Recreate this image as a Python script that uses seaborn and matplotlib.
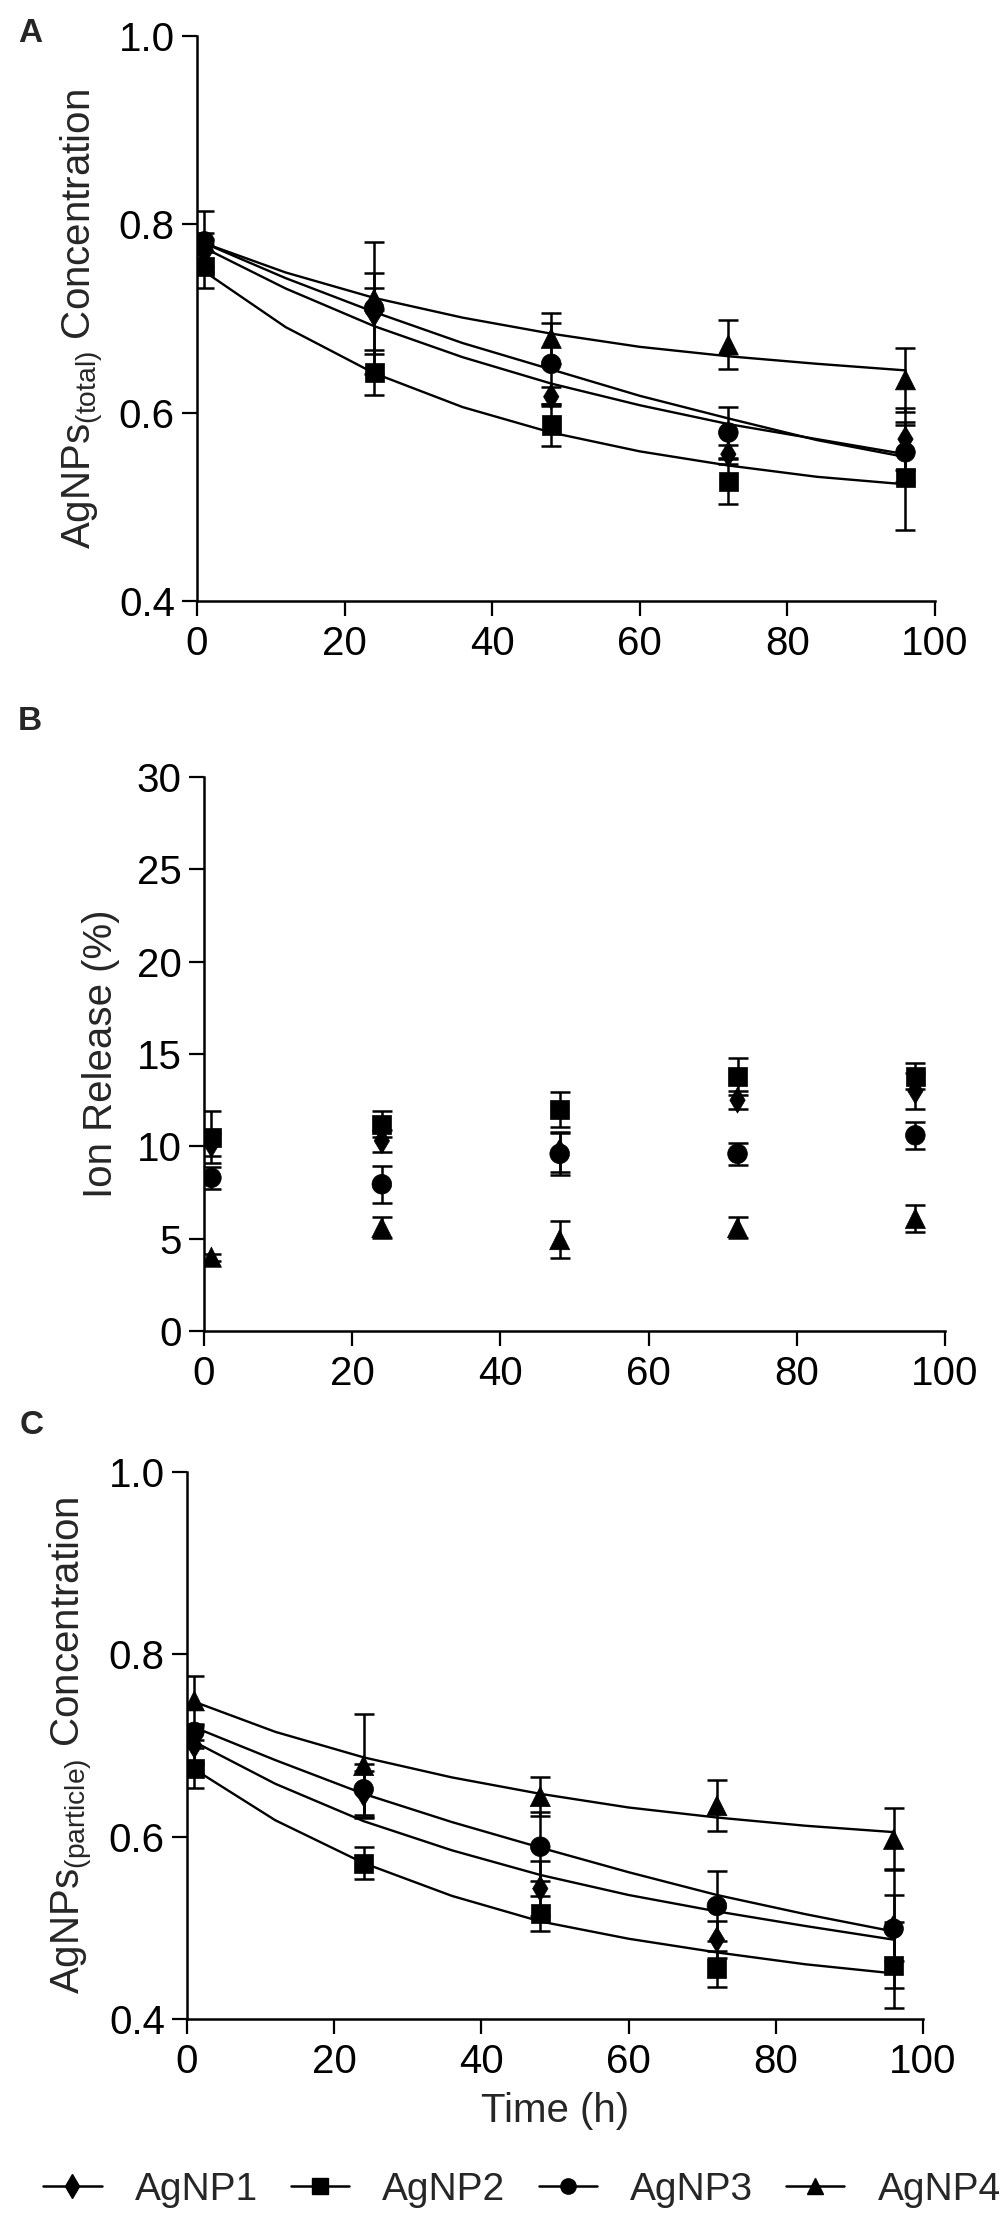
import numpy as np
import pandas as pd
import matplotlib.pyplot as plt
from matplotlib.lines import Line2D
import seaborn as sns

# time points (h) and the points where the fitted decay curves were read
time_h = [1, 24, 48, 72, 96]
fit_time = [1, 12, 24, 36, 48, 60, 72, 84, 96]
samples = ['AgNP1', 'AgNP2', 'AgNP3', 'AgNP4']

# A: AgNPs(total) concentration, mean and SD
total_agnp1 = [0.770, 0.705, 0.617, 0.556, 0.572]
total_agnp2 = [0.755, 0.643, 0.587, 0.527, 0.531]
total_agnp3 = [0.782, 0.711, 0.652, 0.579, 0.558]
total_agnp4 = [0.781, 0.721, 0.679, 0.672, 0.635]
total_sd1 = [0.015, 0.043, 0.010, 0.010, 0.033]
total_sd2 = [0.023, 0.024, 0.022, 0.024, 0.056]
total_sd3 = [0.032, 0.070, 0.043, 0.027, 0.032]
total_sd4 = [0.010, 0.012, 0.027, 0.026, 0.034]
total_fit1 = [0.775, 0.732, 0.692, 0.659, 0.631, 0.608, 0.588, 0.572, 0.556]
total_fit2 = [0.750, 0.691, 0.642, 0.606, 0.579, 0.559, 0.544, 0.532, 0.524]
total_fit3 = [0.780, 0.743, 0.707, 0.674, 0.646, 0.618, 0.594, 0.571, 0.553]
total_fit4 = [0.780, 0.749, 0.722, 0.701, 0.684, 0.670, 0.660, 0.652, 0.645]

# B: ion release (%), mean and SD
ion_agnp1 = [10.1, 10.3, 9.7, 12.5, 13.0]
ion_agnp2 = [10.5, 11.2, 12.0, 13.8, 13.8]
ion_agnp3 = [8.3, 7.95, 9.6, 9.6, 10.6]
ion_agnp4 = [4.0, 5.6, 4.95, 5.6, 6.1]
ion_sd1 = [0.6, 0.6, 1.1, 0.5, 1.0]
ion_sd2 = [1.4, 0.7, 0.95, 1.0, 0.7]
ion_sd3 = [0.6, 1.0, 1.15, 0.6, 0.72]
ion_sd4 = [0.2, 0.55, 1.0, 0.55, 0.75]

# C: AgNPs(particle) concentration, mean and SD
part_agnp1 = [0.700, 0.647, 0.543, 0.487, 0.500]
part_agnp2 = [0.675, 0.571, 0.516, 0.455, 0.459]
part_agnp3 = [0.715, 0.652, 0.589, 0.524, 0.499]
part_agnp4 = [0.749, 0.678, 0.644, 0.634, 0.597]
part_sd1 = [0.020, 0.025, 0.030, 0.020, 0.036]
part_sd2 = [0.022, 0.018, 0.019, 0.020, 0.047]
part_sd3 = [0.009, 0.028, 0.038, 0.038, 0.065]
part_sd4 = [0.027, 0.057, 0.021, 0.028, 0.034]
part_fit1 = [0.704, 0.658, 0.617, 0.585, 0.558, 0.536, 0.518, 0.502, 0.487]
part_fit2 = [0.674, 0.618, 0.571, 0.535, 0.507, 0.488, 0.473, 0.460, 0.450]
part_fit3 = [0.720, 0.684, 0.647, 0.616, 0.588, 0.561, 0.536, 0.515, 0.496]
part_fit4 = [0.748, 0.715, 0.687, 0.665, 0.647, 0.632, 0.621, 0.612, 0.605]

marker_map = {'AgNP1': 'd', 'AgNP2': 's', 'AgNP3': 'o', 'AgNP4': '^'}
size_map = {'AgNP1': 170, 'AgNP2': 190, 'AgNP3': 200, 'AgNP4': 210}


def long_table(values, sds):
    rows = []
    for name, vals, errs in zip(samples, values, sds):
        for t, v, e in zip(time_h, vals, errs):
            rows.append({'time': t, 'value': v, 'sd': e, 'sample': name})
    return pd.DataFrame(rows)


def fit_table(curves):
    rows = []
    for name, vals in zip(samples, curves):
        for t, v in zip(fit_time, vals):
            rows.append({'time': t, 'value': v, 'sample': name})
    return pd.DataFrame(rows)


sns.set_theme(style='ticks')
plt.rcParams['font.family'] = ['Liberation Sans', 'DejaVu Sans']
plt.rcParams['mathtext.fontset'] = 'custom'
plt.rcParams['mathtext.rm'] = 'Liberation Sans'
plt.rcParams['mathtext.default'] = 'regular'

FS = 29

fig = plt.figure(figsize=(10, 22.14), dpi=100)
axA = fig.add_axes([0.197, 0.7285, 0.738, 0.2552])
axB = fig.add_axes([0.204, 0.3988, 0.741, 0.2502])
axC = fig.add_axes([0.187, 0.0881, 0.736, 0.2470])


def draw_panel(ax, df, fit_df=None):
    if fit_df is not None:
        sns.lineplot(data=fit_df, x='time', y='value', units='sample',
                     estimator=None, color='black', linewidth=1.7, ax=ax,
                     legend=False)
    for name in samples:
        sub = df[df['sample'] == name]
        ax.errorbar(sub['time'], sub['value'], yerr=sub['sd'], fmt='none',
                    ecolor='black', elinewidth=1.8, capsize=7, capthick=1.8,
                    zorder=3)
    sns.scatterplot(data=df, x='time', y='value', style='sample',
                    markers=marker_map, size='sample', sizes=size_map,
                    color='black', edgecolor='black', linewidth=0.5,
                    ax=ax, legend=False, zorder=4)
    sns.despine(ax=ax)
    for s in ['left', 'bottom']:
        ax.spines[s].set_linewidth(1.8)
        ax.spines[s].set_color('black')
    ax.tick_params(direction='out', length=11, width=1.6, colors='black',
                   labelsize=FS, pad=5)
    ax.tick_params(axis='x', pad=6)
    ax.set_xlim(0, 100)
    ax.set_xticks([0, 20, 40, 60, 80, 100])
    ax.set_xlabel('')
    ax.set_ylabel('')


dfA = long_table([total_agnp1, total_agnp2, total_agnp3, total_agnp4],
                 [total_sd1, total_sd2, total_sd3, total_sd4])
fitA = fit_table([total_fit1, total_fit2, total_fit3, total_fit4])
draw_panel(axA, dfA, fitA)
axA.set_ylim(0.4, 1.0)
axA.set_yticks([0.4, 0.6, 0.8, 1.0])
axA.set_yticklabels(['0.4', '0.6', '0.8', '1.0'])
axA.set_ylabel('AgNPs$_{(total)}$ Concentration', fontsize=FS)
axA.yaxis.set_label_coords(-0.123, 0.5)

dfB = long_table([ion_agnp1, ion_agnp2, ion_agnp3, ion_agnp4],
                 [ion_sd1, ion_sd2, ion_sd3, ion_sd4])
draw_panel(axB, dfB)
axB.set_ylim(0, 30)
axB.set_yticks([0, 5, 10, 15, 20, 25, 30])
axB.set_ylabel('Ion Release (%)', fontsize=FS)
axB.yaxis.set_label_coords(-0.113, 0.5)

dfC = long_table([part_agnp1, part_agnp2, part_agnp3, part_agnp4],
                 [part_sd1, part_sd2, part_sd3, part_sd4])
fitC = fit_table([part_fit1, part_fit2, part_fit3, part_fit4])
draw_panel(axC, dfC, fitC)
axC.set_ylim(0.4, 1.0)
axC.set_yticks([0.4, 0.6, 0.8, 1.0])
axC.set_yticklabels(['0.4', '0.6', '0.8', '1.0'])
axC.set_ylabel('AgNPs$_{(particle)}$ Concentration', fontsize=FS)
axC.yaxis.set_label_coords(-0.125, 0.5)
axC.set_xlabel('Time (h)', fontsize=FS, labelpad=8)

# panel letters
fig.text(0.018, 0.992, 'A', fontsize=24, fontweight='bold', va='top')
fig.text(0.018, 0.681, 'B', fontsize=24, fontweight='bold', va='top')
fig.text(0.020, 0.363, 'C', fontsize=24, fontweight='bold', va='top')

handles = [Line2D([], [], color='black', linewidth=1.8,
                  marker=marker_map[n], markersize=12 if n == 'AgNP1' else 11)
           for n in samples]
fig.legend(handles, samples, loc='center', bbox_to_anchor=(0.522, 0.0108),
           ncol=4, frameon=False, fontsize=28, handlelength=1.5,
           handletextpad=0.85, columnspacing=0.85, borderpad=0)

fig.savefig('out.png', dpi=100)
